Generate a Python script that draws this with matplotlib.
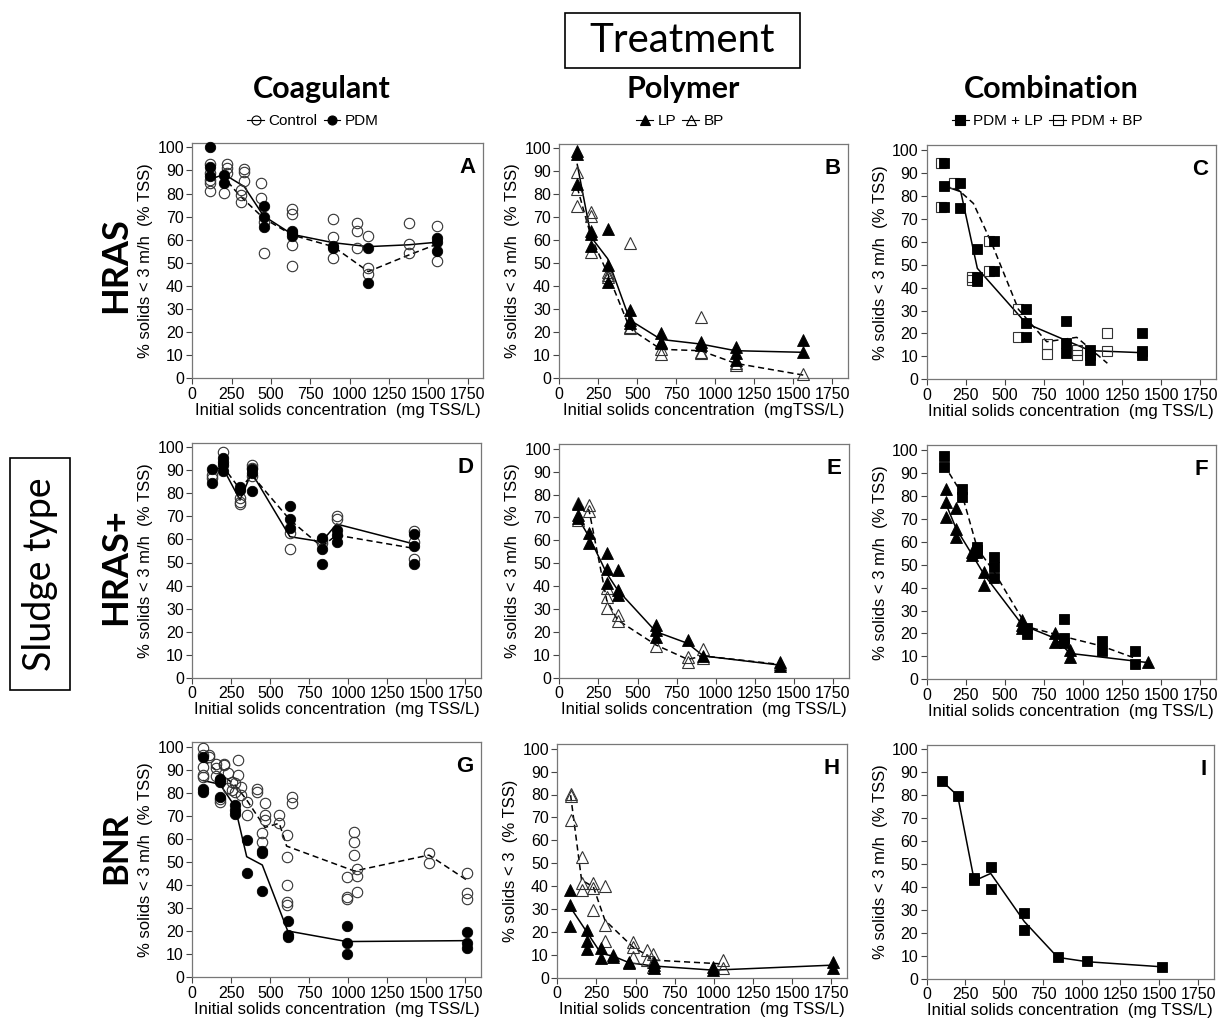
import matplotlib
matplotlib.use('Agg')
import matplotlib.pyplot as plt
from matplotlib.patches import Rectangle
from matplotlib.lines import Line2D

# ---------------- DATA ----------------
# Panel A (HRAS, coagulant)
A_ctrl_x = [112,112,112,112,112, 222,222,222, 203, 330,330,330, 309,309,309, 434,434, 453,453, 636,636,636,636, 896,896,896, 1049,1049,1049, 1119,1119,1119, 1377,1377,1377, 1553,1553]
A_ctrl_y = [92.8,88.7,85.9,84.4,81.2, 92.6,90.9,88.7, 80.1, 90.6,89.5,85.6, 81.5,79.4,76.5, 84.4,77.9, 67.8,54.1, 73.2,71.0,57.7,48.6, 69.0,61.3,52.0, 67.4,63.8,56.6, 61.6,47.6,45.0, 67.1,58.0,54.1, 66.1,50.9]
A_pdm_x = [112,112,112, 203,203, 453,453,453, 636,636,636, 896,896, 1119,1119, 1553,1553,1553]
A_pdm_y = [100,91.6,87.6, 88.0,84.4, 74.6,69.7,65.7, 63.9,62.8,61.8, 57.4,56.3, 56.3,41.1, 60.9,58.9,55.1]
A_pdm_line_x = [112, 203, 330, 453, 636, 896, 1119, 1377, 1553]
A_pdm_line_y = [86.1, 88.3, 83.0, 70.3, 62.3, 58.7, 57.0, 57.8, 58.9]
A_ctrl_line_x = [112, 203, 260, 309, 453, 636, 896, 1119, 1377, 1553]
A_ctrl_line_y = [86.5, 87.0, 82.3, 78.6, 69.3, 62.0, 57.0, 46.2, 53.4, 58.0]

# Panel B (HRAS, polymer)
B_lp_x = [115,115,115, 205,205,205, 310,310,310, 453,453,453, 652,652,652, 906,906, 1130,1130,1130, 1564,1564]
B_lp_y = [99,97.7,84.4, 64.2,62.8,57.7, 64.9,49.4,41.8, 29.9,25.3,24.1, 19.9,15.9,15.2, 15.9,14.4, 13.4,10.8,7.9, 16.6,11.5]
B_bp_x = [115,115,115, 205,205,205, 310,310,310, 453,453,453, 652,652, 906,906,906, 1130,1130, 1564]
B_bp_y = [89.5,82.3,75.0, 72.2,70.7,54.8, 46.2,44.7,44.0, 58.9,22.4,21.9, 12.6,10.4, 26.7,11.5,11.1, 5.8,6.5, 1.7]
B_line_x = [115, 205, 310, 453, 652, 906, 1130, 1564]
B_lp_line_y = [93, 61.3, 52, 25.3, 16.9, 14.9, 12, 11.3]
B_bp_line_y = [83, 61.3, 45.5, 21.6, 12.6, 12, 6.5, 1.4]

# Panel C (HRAS, combination)
C_lp_x = [113,113,113, 213,213, 324,324,324, 431,431, 636,636,636, 890,890,890, 1045,1045,1045, 1380,1380,1380]
C_lp_y = [94.2,84.3,75.3, 85.5,74.6, 56.8,44.5,43.0, 60.5,47.4, 30.5,24.4,18.3, 25.4,15.7,11.3, 12.8,10.6,8.4, 20.0,12.4,10.6]
C_bp_x = [92,92, 177, 292,292, 399,399, 587,587, 768,768, 960,960, 1156,1156]
C_bp_y = [94.2,75.3, 85.5, 44.8,43.5, 60.5,47.4, 30.5,18.3, 15.4,11.0, 12.8,10.6, 20.0,12.4]
C_lp_line_x = [113, 218, 324, 636, 1045, 1380]
C_lp_line_y = [84.3, 81.8, 48.4, 24.4, 12.5, 11.6]
C_bp_line_x = [113, 203, 299, 416, 587, 768, 960, 1156]
C_bp_line_y = [84.3, 82.6, 76.7, 59.3, 30.5, 16.4, 18.3, 7.0]

# Panel D (HRAS+, coagulant)
D_ctrl_x = [128,128, 194, 306,306,306, 380,380,380, 626,626, 829,829, 925,925, 1423,1423,1423]
D_ctrl_y = [88.0,86.5, 97.8, 77.9,76.4,75.3, 92.3,91.0,87.6, 62.7,55.7, 59.8,58.3, 70.2,68.9, 63.8,59.0,51.5]
D_pdm_x = [128,128, 194,194,194,194, 306,306, 380,380,380, 626,626,626, 829,829,829, 925,925,925, 1423,1423,1423]
D_pdm_y = [90.4,84.4, 95.2,93.8,92.3,89.9, 82.6,81.5, 90.4,89.0,81.2, 74.5,68.9,65.1, 60.8,55.7,49.3, 64.1,61.9,59.0, 62.2,57.2,49.2]
D_line_x = [128, 194, 306, 380, 626, 829, 925, 1423]
D_pdm_line_y = [89.9, 91.3, 77.1, 89.0, 61.2, 59.0, 66.7, 58.0]
D_ctrl_line_y = [89.9, 91.9, 81.8, 88.0, 68.5, 56.9, 61.9, 56.1]

# Panel E (HRAS+, polymer)
E_lp_x = [121,121,121, 190,190, 303,303,303, 373,373,373, 618,618,618, 821, 921, 1411,1411]
E_lp_y = [75.8,71.0,69.6, 63.3,59.0, 54.3,47.3,41.5, 47.0,38.3,36.1, 23.0,20.8,17.6, 16.4, 9.5, 7.0,5.1]
E_bp_x = [121,121, 190,190, 303,303,303, 373,373, 618, 821,821, 921,921, 1411]
E_bp_y = [76.4,68.9, 75.4,72.9, 39.0,35.4,30.3, 27.4,24.9, 13.8, 8.9,7.0, 12.4,8.4, 6.0]
E_line_x = [121, 190, 303, 373, 618, 821, 921, 1411]
E_lp_line_y = [69.6, 61.6, 45.6, 38.3, 20.1, 15.0, 9.5, 5.5]
E_bp_line_y = [75.4, 73.2, 33.9, 25.2, 14.3, 8.0, 9.5, 5.8]

# Panel F (HRAS+, combination)
F_lp_x = [122,122,122, 188,188,188, 292,292, 369,369, 612,612,612, 821,821, 917,917, 1414]
F_lp_y = [82.8,77.5,70.9, 74.6,65.4,62.2, 55.7,54.2, 46.9,41.1, 25.9,23.7,22.2, 20.0,16.4, 12.8,9.9, 7.7]
F_bp_x = [111,111, 224,224, 324,324,324, 431,431,431, 640,640, 879,879,879, 1120,1120, 1333,1333]
F_bp_y = [97.5,92.4, 83.0,79.7, 57.8,56.4,54.9, 53.5,48.8,44.0, 22.2,19.6, 26.3,17.9,15.7, 16.7,12.4, 12.4,6.7]
F_lp_line_x = [122, 188, 292, 369, 612, 821, 917, 1414]
F_lp_line_y = [76.7, 65.8, 54.2, 45.5, 23.7, 17.9, 11.3, 7.3]
F_bp_line_x = [111, 224, 324, 431, 640, 879, 1120, 1333]
F_bp_line_y = [93.5, 81.1, 57.1, 46.9, 23.0, 18.6, 14.5, 9.2]

# Panel G (BNR, coagulant)
G_ctrl_x = [71,71,71,71,71, 107,107, 150,150,150, 178,178,178, 205,205, 227,227, 252,252, 274,274, 295,295, 312,312, 349,349, 413,413, 466,466,466, 449,449, 558,558, 605,605,605,605,605, 637,637, 990,990,990, 1039,1039,1039, 1054,1054,1054, 1518,1518, 1760,1760,1760]
G_ctrl_y = [99.3,96.4,91.3,87.7,86.7, 96.4,95.4, 92.5,90.6,87.3, 85.5,76.2,77.2, 92.5,92.1, 88.4,81.9, 84.8,81.2, 84.1,80.5, 94.2,87.7, 82.7,79.0, 76.2,70.4, 81.5,80.5, 75.4,70.4,68.2, 62.4,58.8, 70.4,66.8, 61.7,52.3,40.0,32.8,31.4, 78.0,75.7, 43.6,35.0,34.0, 63.2,58.8,53.0, 46.8,43.9,37.1, 53.8,49.7, 45.1,36.4,33.8]
G_pdm_x = [71,71,71, 178,178,178, 274,274,274, 349,349, 449,449,449, 612,612,612, 990,990,990, 1760,1760,1760]
G_pdm_y = [95.4,81.5,80.2, 85.8,84.8,78.3, 74.7,72.5,70.8, 59.5,45.4, 54.9,53.8,37.4, 24.4,18.4,17.6, 22.3,15.0,10.1, 19.8,15.0,12.6]
G_pdm_line_x = [71, 178, 274, 349, 449, 612, 990, 1760]
G_pdm_line_y = [85.3, 83.7, 74.0, 52.3, 48.7, 20.1, 15.5, 15.9]
G_ctrl_line_x = [71, 178, 274, 349, 466, 558, 605, 1039, 1518, 1760]
G_ctrl_line_y = [94.2, 88.4, 83.4, 76.9, 65.0, 66.8, 56.9, 46.1, 53.0, 42.2]

# Panel H (BNR, polymer)
H_bp_x = [85,85,85, 155,155,155, 230,230,230, 304,304,304, 481,481,481, 570,570, 609,609,609, 1060,1060]
H_bp_y = [80.4,79.4,68.8, 52.8,41.4,38.2, 41.4,39.2,29.5, 40.0,23.0,16.1, 15.7,13.5,9.2, 12.1,7.7, 10.3,7.0,4.8, 7.7,4.1]
H_lp_x = [81,81,81, 187,187,187, 279,279, 357,357, 460,460, 617,617,617, 996,996, 1762,1762]
H_lp_y = [38.2,31.7,22.5, 20.8,16.0,12.4, 12.8,8.4, 9.9,9.2, 7.0,6.5, 7.0,5.5,4.4, 4.8,3.3, 7.0,4.1]
H_lp_line_x = [81, 187, 279, 357, 460, 617, 996, 1762]
H_lp_line_y = [31.0, 20.1, 10.6, 9.4, 6.5, 5.1, 3.3, 5.5]
H_bp_line_x = [85, 155, 230, 304, 481, 570, 609, 1060]
H_bp_line_y = [79.7, 42.6, 39.7, 25.1, 13.5, 9.9, 7.7, 6.0]

# Panel I (BNR, combination)
I_x = [97, 200, 307,307, 413,413, 630,630, 845, 1036, 1515]
I_y = [86.3, 79.8, 43.8,43.0, 48.5,39.1, 28.5,21.2, 9.6, 7.8, 5.2]
I_line_x = [97, 200, 307, 413, 630, 845, 1036, 1515]
I_line_y = [86.3, 79.8, 42.7, 45.9, 24.9, 9.3, 7.4, 5.2]

x_ticks = [0, 250, 500, 750, 1000, 1250, 1500, 1750]
y_ticks = [0, 10, 20, 30, 40, 50, 60, 70, 80, 90, 100]
panel_letters = ['A','B','C','D','E','F','G','H','I']
col_titles = ['Coagulant', 'Polymer', 'Combination']
row_titles = ['HRAS', 'HRAS+', 'BNR']
legend_labels = [['Control', 'PDM'], ['LP', 'BP'], ['PDM + LP', 'PDM + BP']]
xlab_std = 'Initial solids concentration  (mg TSS/L)'
xlab_B = 'Initial solids concentration  (mgTSS/L)'
ylab_std = '% solids < 3 m/h  (% TSS)'
ylab_H = '% solids < 3  (% TSS)'

# ---------------- FIGURE ----------------
W, H = 1225, 1030
fig = plt.figure(figsize=(12.25, 10.3), dpi=100)
AR = 'Liberation Sans'
HD = 'Lato'

XMAX, YMAX = 1850, 102

def add_axes(x0, x1750, y0, y100):
    w = (x1750 - x0) * XMAX / 1750
    h = (y0 - y100) * YMAX / 100
    return fig.add_axes([x0 / W, (H - y0) / H, w / W, h / H])

pos = [
    (192.3, 467.6, 378.3, 147.3), (559.3, 832.3, 378.3, 148.3), (926.7, 1200.2, 379.3, 150.0),
    (192.3, 465.3, 677.7, 447.3), (559.3, 833.0, 677.7, 448.8), (926.7, 1200.2, 679.3, 450.0),
    (192.3, 465.1, 977.3, 746.7), (557.3, 831.5, 977.7, 748.7), (926.7, 1198.0, 978.7, 749.4),
]
axes = [add_axes(*p) for p in pos]

def style(ax, letter, xlab, ylab):
    ax.set_xlim(0, XMAX)
    ax.set_ylim(0, YMAX)
    ax.set_xticks(x_ticks)
    ax.set_yticks(y_ticks)
    ax.tick_params(direction='out', length=4, width=0.8, labelsize=11.5, pad=2, color='#444444')
    for lab in ax.get_xticklabels() + ax.get_yticklabels():
        lab.set_family(AR)
    for s in ax.spines.values():
        s.set_color('#777777')
        s.set_linewidth(0.9)
    ax.set_xlabel(xlab, fontsize=12, family=AR, labelpad=1)
    ax.set_ylabel(ylab, fontsize=12, family=AR, labelpad=3)
    ax.text(0.975, 0.94, letter, transform=ax.transAxes, ha='right', va='top',
            fontsize=16, fontweight='bold', family=AR)

SOLID = dict(color='black', lw=1.1, zorder=2)
DASH = dict(color='black', lw=1.1, ls=(0, (4, 2.5)), zorder=2)

def open_m(ax, x, y, m, ms):
    ax.plot(x, y, ls='none', marker=m, ms=ms, mfc='none', mec='#333333', mew=0.8, zorder=3, clip_on=False)

def fill_m(ax, x, y, m, ms):
    ax.plot(x, y, ls='none', marker=m, ms=ms, mfc='black', mec='black', mew=0.6, zorder=4, clip_on=False)

CS, TS, SS = 7.5, 8.5, 7.2

# A
ax = axes[0]
ax.plot(A_ctrl_line_x, A_ctrl_line_y, **DASH)
ax.plot(A_pdm_line_x, A_pdm_line_y, **SOLID)
open_m(ax, A_ctrl_x, A_ctrl_y, 'o', CS)
fill_m(ax, A_pdm_x, A_pdm_y, 'o', CS)
# B
ax = axes[1]
ax.plot(B_line_x, B_bp_line_y, **DASH)
ax.plot(B_line_x, B_lp_line_y, **SOLID)
open_m(ax, B_bp_x, B_bp_y, '^', TS)
fill_m(ax, B_lp_x, B_lp_y, '^', TS)
# C
ax = axes[2]
ax.plot(C_bp_line_x, C_bp_line_y, **DASH)
ax.plot(C_lp_line_x, C_lp_line_y, **SOLID)
open_m(ax, C_bp_x, C_bp_y, 's', SS)
fill_m(ax, C_lp_x, C_lp_y, 's', SS)
# D
ax = axes[3]
ax.plot(D_line_x, D_ctrl_line_y, **DASH)
ax.plot(D_line_x, D_pdm_line_y, **SOLID)
open_m(ax, D_ctrl_x, D_ctrl_y, 'o', CS)
fill_m(ax, D_pdm_x, D_pdm_y, 'o', CS)
# E
ax = axes[4]
ax.plot(E_line_x, E_bp_line_y, **DASH)
ax.plot(E_line_x, E_lp_line_y, **SOLID)
open_m(ax, E_bp_x, E_bp_y, '^', TS)
fill_m(ax, E_lp_x, E_lp_y, '^', TS)
# F
ax = axes[5]
ax.plot(F_bp_line_x, F_bp_line_y, **DASH)
ax.plot(F_lp_line_x, F_lp_line_y, **SOLID)
fill_m(ax, F_bp_x, F_bp_y, 's', SS)
fill_m(ax, F_lp_x, F_lp_y, '^', TS)
# G
ax = axes[6]
ax.plot(G_ctrl_line_x, G_ctrl_line_y, **DASH)
ax.plot(G_pdm_line_x, G_pdm_line_y, **SOLID)
open_m(ax, G_ctrl_x, G_ctrl_y, 'o', CS)
fill_m(ax, G_pdm_x, G_pdm_y, 'o', CS)
# H
ax = axes[7]
ax.plot(H_bp_line_x, H_bp_line_y, **DASH)
ax.plot(H_lp_line_x, H_lp_line_y, **SOLID)
open_m(ax, H_bp_x, H_bp_y, '^', TS)
fill_m(ax, H_lp_x, H_lp_y, '^', TS)
# I
ax = axes[8]
ax.plot(I_line_x, I_line_y, **SOLID)
fill_m(ax, I_x, I_y, 's', SS)

for i, ax in enumerate(axes):
    xl = xlab_B if i == 1 else xlab_std
    yl = ylab_H if i == 7 else ylab_std
    style(ax, panel_letters[i], xl, yl)

# ---------------- HEADERS ----------------
def ft(x, y, s, **kw):
    fig.text(x / W, 1 - y / H, s, ha='center', va='center', **kw)

fig.add_artist(Rectangle((565 / W, 1 - 68 / H), 235 / W, 55 / H, transform=fig.transFigure,
                         fill=False, lw=1.2, edgecolor='black'))
ft(682, 40, 'Treatment', fontsize=29, family=HD)

fig.add_artist(Rectangle((10 / W, 1 - 690 / H), 60 / W, 232 / H, transform=fig.transFigure,
                         fill=False, lw=1.2, edgecolor='black'))
ft(40, 574, 'Sludge type', fontsize=27, family=HD, rotation=90)

for x, s in zip([322, 683, 1051], col_titles):
    ft(x, 89, s, fontsize=22, fontweight='bold', family=HD)
for y, s, fs in zip([265, 567, 848], row_titles, [26, 26, 25]):
    ft(116, y, s, fontsize=fs, fontweight='bold', family=HD, rotation=90)

def handle(m, filled, ms):
    return Line2D([], [], color='black', lw=0.8, marker=m, ms=ms,
                  mfc='black' if filled else 'none', mec='black', mew=0.8)

leg_handles = [
    [handle('o', False, 6.5), handle('o', True, 6.5)],
    [handle('^', True, 7.5), handle('^', False, 7.5)],
    [handle('s', True, 6.5), handle('s', False, 6.5)],
]
for x, hs, labs in zip([313, 680, 1047], leg_handles, legend_labels):
    fig.legend(hs, labs, loc='center', bbox_to_anchor=(x / W, 1 - 121 / H), ncol=2,
               frameon=False, handlelength=1.1, handletextpad=0.3, columnspacing=0.4,
               prop={'family': AR, 'size': 11}, borderpad=0, borderaxespad=0)

fig.savefig('out.png', dpi=100)
